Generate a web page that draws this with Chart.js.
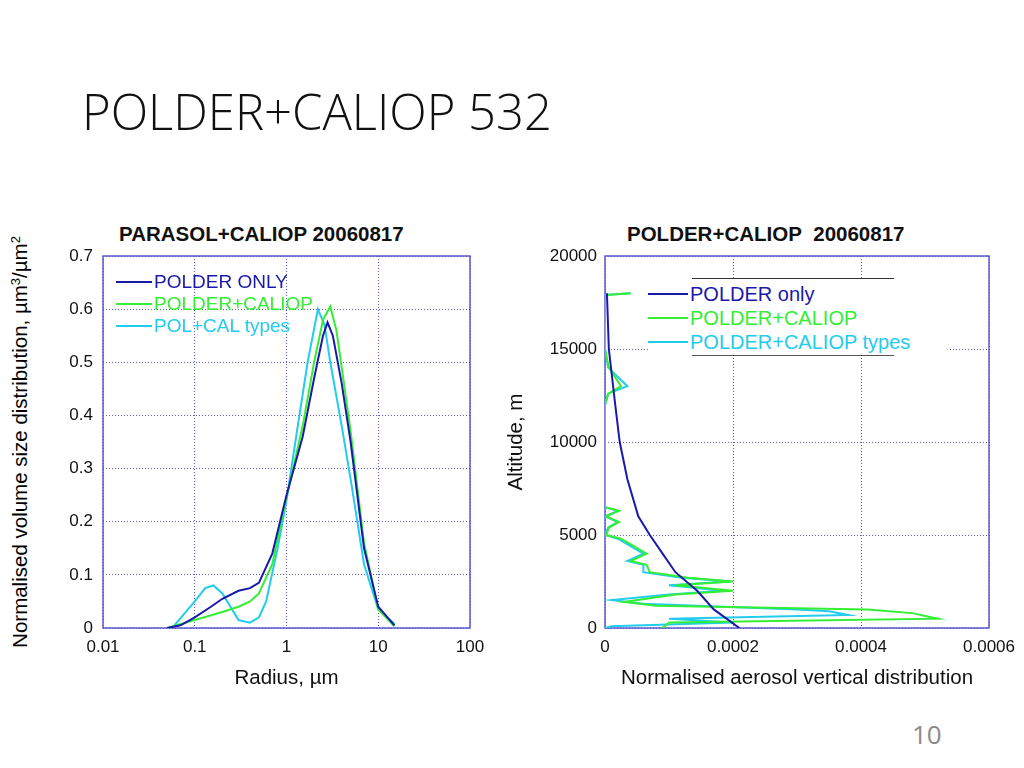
<!DOCTYPE html>
<html><head><meta charset="utf-8">
<script src="https://cdn.jsdelivr.net/npm/chart.js@4"></script>
<style>
body{margin:0;width:1024px;height:768px;background:#fff;position:relative;overflow:hidden;font-family:"Liberation Sans",Arial,sans-serif}
.abs{position:absolute}
#title{left:82px;top:78px;font-family:"Open Sans",sans-serif;font-weight:300;font-size:49px;color:#111}
#page{left:912px;top:716px;font-family:"Open Sans",sans-serif;font-size:26px;color:#8a8a8a}
.ct{font-weight:bold;font-size:20.5px;color:#111}
#ylab{left:20px;top:442px;font-size:20.5px;transform:translate(-50%,-50%) rotate(-90deg);white-space:nowrap}
.lg{font-size:19px;line-height:22px}
.lg div{display:flex;align-items:center}
.lg span{display:inline-block;width:36px;height:2px;margin-right:2px}
#lg2{font-size:20px;line-height:24px}
</style></head><body>
<div id="title" class="abs">POLDER+CALIOP 532</div>
<div id="page" class="abs">10</div>
<div id="ylab" class="abs">Normalised volume size distribution, µm<sup style="font-size:13px">3</sup>/µm<sup style="font-size:13px">2</sup></div>
<div class="abs ct" style="left:119px;top:222px">PARASOL+CALIOP 20060817</div>
<div class="abs ct" style="left:627px;top:222px">POLDER+CALIOP&nbsp; 20060817</div>
<div class="abs" style="left:0;top:215px;width:500px;height:480px"><canvas id="c1"></canvas></div>
<div class="abs" style="left:500px;top:215px;width:524px;height:480px"><canvas id="c2"></canvas></div>
<div class="abs lg" style="left:116px;top:271px">
<div style="color:#1a1aa8"><span style="background:#1a1aa8"></span>POLDER ONLY</div>
<div style="color:#33ee33"><span style="background:#33ee33"></span>POLDER+CALIOP</div>
<div style="color:#22ccee"><span style="background:#22ccee"></span>POL+CAL types</div>
</div>
<div id="lg2" class="abs lg" style="left:648px;top:278px;background:#fff;padding:4px 0 2px 0;width:300px">
<div style="position:absolute;left:44px;top:0;width:202px;height:1px;background:#333"></div>
<div style="color:#1a1aa8"><span style="background:#1a1aa8;width:40px"></span>POLDER only</div>
<div style="color:#33ee33"><span style="background:#33ee33;width:40px"></span>POLDER+CALIOP</div>
<div style="color:#22ccee"><span style="background:#22ccee;width:40px"></span>POLDER+CALIOP types</div>
<div style="position:absolute;left:44px;bottom:0;width:202px;height:1px;background:#555"></div>
</div>
<script>
// left panel: size distribution, [radius, value]
const sizeOnly = [[0.05,0],[0.07,0.005],[0.1,0.02],[0.15,0.04],[0.2,0.055],[0.3,0.07],[0.4,0.075],[0.5,0.085],[0.7,0.14],[1,0.25],[1.5,0.36],[2,0.47],[2.5,0.55],[2.8,0.575],[3.2,0.55],[4,0.46],[5,0.35],[7,0.15],[10,0.04],[15,0.005]];
const sizeCal = [[0.05,0],[0.1,0.015],[0.2,0.03],[0.3,0.04],[0.4,0.05],[0.5,0.065],[0.7,0.12],[1,0.245],[1.5,0.38],[2,0.5],[2.5,0.58],[3,0.605],[3.5,0.56],[4,0.49],[5,0.37],[7,0.16],[10,0.035],[15,0.003]];
const sizeTypes = [[0.06,0.005],[0.1,0.05],[0.13,0.075],[0.16,0.08],[0.2,0.065],[0.3,0.015],[0.4,0.01],[0.5,0.02],[0.6,0.05],[0.8,0.15],[1,0.24],[1.3,0.37],[1.7,0.5],[2.2,0.6],[2.6,0.57],[3,0.5],[4,0.38],[5,0.28],[7,0.12],[10,0.035],[15,0.008]];
const radiusTicks = [0.01,0.1,1,10,100];

// right panel: vertical distribution, [altitude, value]
const vertOnly = [[18000,0.000003],[15000,0.000006],[12000,0.000016],[10000,0.000023],[8000,0.000035],[6000,0.000052],[5000,0.00007],[4000,0.00009],[3000,0.00011],[2000,0.000144],[1000,0.00017],[0,0.00021]];
const vertCal = [[18000,0.00004],[17900,0],[15000,0],[14000,0.000006],[13000,0.000025],[12600,0.000005],[12000,0],[6500,0],[6300,0.000022],[6000,0.000002],[5700,0.000022],[5400,0.000006],[5000,0.000002],[4800,0.000025],[4400,0.000045],[4000,0.000065],[3600,0.00004],[3400,0.000065],[3000,0.00007],[2700,0.00013],[2500,0.0002],[2300,0.00011],[2000,0.0002],[1800,0.00011],[1400,0.00003],[1200,0.00008],[1000,0.00041],[800,0.00048],[500,0.00052],[300,0.0001],[0,0.00009]];
const vertTypes = [[18000,0.00004],[17900,0],[15000,0],[14000,0.000005],[13000,0.000035],[12600,0.000005],[12000,0],[6500,0],[6300,0.00002],[6000,0],[5700,0.00002],[5400,0.000005],[5000,0],[4800,0.00002],[4400,0.00004],[4000,0.00006],[3600,0.000035],[3400,0.00006],[3000,0.00006],[2700,0.00012],[2500,0.000195],[2300,0.0001],[2000,0.000185],[1800,0.0001],[1500,0.00001],[1300,0.00006],[1000,0.0003],[900,0.00035],[700,0.00038],[500,0.0001],[300,0.0002],[100,0.00001],[0,0]];
const altTicks = [0,5000,10000,15000,20000];
const vertTicks = [0,0.0002,0.0004,0.0006];

const BLUE = "#1a1aa8", GREEN = "#33ee33", CYAN = "#22ccee";
const gridCol = "#5a5ad0";
Chart.defaults.font.family = '"Liberation Sans", Arial, sans-serif';
Chart.defaults.color = "#111";

function ds(pts, color, swap) {
  return {
    data: pts.map(p => swap ? { x: p[1], y: p[0] } : { x: p[0], y: p[1] }),
    borderColor: color, borderWidth: 2, pointRadius: 0, showLine: true, fill: false, tension: 0
  };
}
function grid() { return { color: gridCol, lineWidth: 1, drawTicks: false }; }
function border() { return { display: false, dash: [1, 2] }; }

// solid frame around the plot area
const frame = {
  id: "frame",
  beforeDatasetsDraw(c) {
    const a = c.chartArea, ctx = c.ctx;
    ctx.save();
    ctx.strokeStyle = gridCol; ctx.lineWidth = 1.5; ctx.setLineDash([]);
    ctx.strokeRect(a.left, a.top, a.right - a.left, a.bottom - a.top);
    ctx.restore();
  }
};

new Chart(document.getElementById("c1"), {
  type: "scatter",
  data: { datasets: [ds(sizeOnly, BLUE), ds(sizeCal, GREEN), ds(sizeTypes, CYAN)] },
  plugins: [frame],
  options: {
    responsive: true, maintainAspectRatio: false, animation: false,
    layout: { padding: { top: 41, right: 30, left: 0, bottom: 0 } },
    plugins: { legend: { display: false }, tooltip: { enabled: false } },
    scales: {
      x: {
        type: "logarithmic", min: 0.01, max: 100,
        afterBuildTicks: s => { s.ticks = radiusTicks.map(v => ({ value: v })); },
        afterFit: s => { s.height = 67; },
        ticks: { font: { size: 17 }, padding: 9, callback: v => String(v) },
        grid: grid(), border: border(),
        title: { display: true, text: "Radius, µm", font: { size: 20.5 }, padding: { top: 2 } }
      },
      y: {
        min: 0, max: 0.7,
        afterBuildTicks: s => { s.ticks = [0,0.1,0.2,0.3,0.4,0.5,0.6,0.7].map(v => ({ value: v })); },
        afterFit: s => { s.width = 103; },
        ticks: { font: { size: 17 }, padding: 10, callback: v => v === 0 ? "0" : v.toFixed(1) },
        grid: grid(), border: border()
      }
    }
  }
});

new Chart(document.getElementById("c2"), {
  type: "scatter",
  data: { datasets: [ds(vertOnly, BLUE, true), ds(vertCal, GREEN, true), ds(vertTypes, CYAN, true)] },
  plugins: [frame],
  options: {
    responsive: true, maintainAspectRatio: false, animation: false,
    layout: { padding: { top: 41, right: 24, left: 0, bottom: 0 } },
    plugins: { legend: { display: false }, tooltip: { enabled: false } },
    scales: {
      x: {
        min: 0, max: 0.0006,
        afterBuildTicks: s => { s.ticks = vertTicks.map(v => ({ value: v })); },
        afterFit: s => { s.height = 67; },
        ticks: { font: { size: 17 }, padding: 9, callback: v => v === 0 ? "0" : v.toFixed(4) },
        grid: grid(), border: border(),
        title: { display: true, text: "Normalised aerosol vertical distribution", font: { size: 20.5 }, padding: { top: 2 } }
      },
      y: {
        min: 0, max: 20000,
        afterBuildTicks: s => { s.ticks = altTicks.map(v => ({ value: v })); },
        afterFit: s => { s.width = 105; },
        ticks: { font: { size: 17 }, padding: 8, callback: v => String(v) },
        grid: grid(), border: border(),
        title: { display: true, text: "Altitude, m", font: { size: 20.5 }, padding: { bottom: 0 } }
      }
    }
  }
});
</script>
</body></html>
